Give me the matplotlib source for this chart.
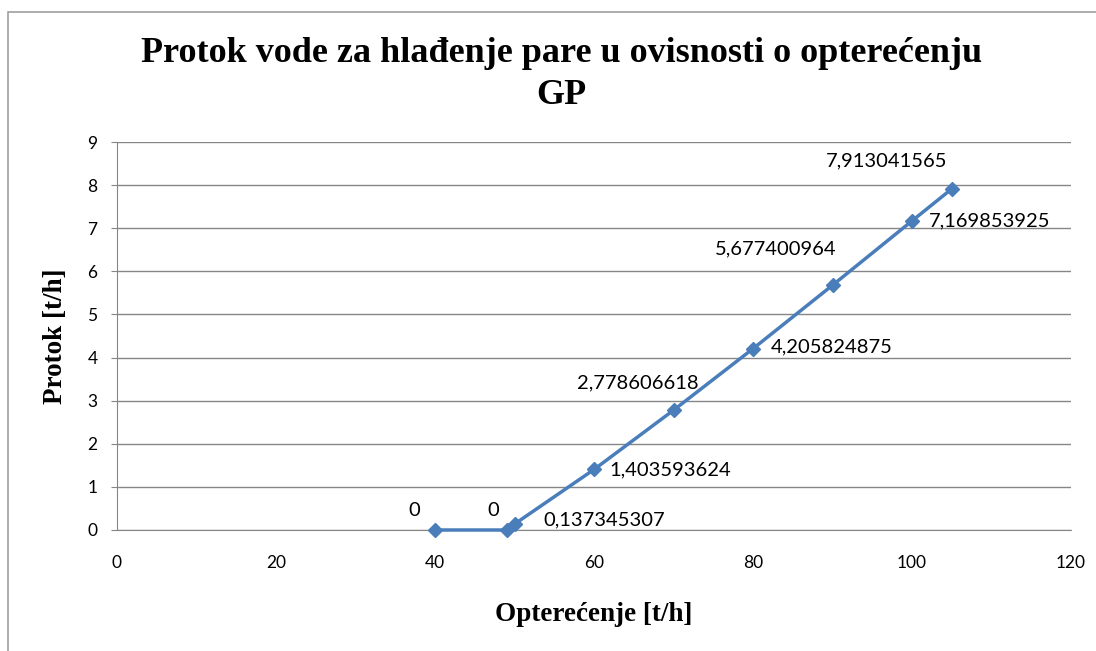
import matplotlib.pyplot as plt
from matplotlib.patches import Rectangle

# opterecenje [t/h] i protok [t/h]
opterecenje = [40, 49, 50, 60, 70, 80, 90, 100, 105]
protok = [0, 0, 0.137345307, 1.403593624, 2.778606618, 4.205824875,
          5.677400964, 7.169853925, 7.913041565]
labels = ["0", "0", "0,137345307", "1,403593624", "2,778606618", "4,205824875",
          "5,677400964", "7,169853925", "7,913041565"]
# label offsets in points (dx, dy, ha)
offsets = [(-11, 14, "right"), (-5, 14, "right"), (21, 3, "left"), (11, 0, "left"),
           (18, 20, "right"), (13, 1, "left"), (3, 26, "right"), (12, 0, "left"),
           (-3, 20, "right")]

blue = "#4A7EBB"
grid = "#868686"

fig = plt.figure(figsize=(10.96, 6.51), dpi=100)
fig.patches.append(Rectangle((8 / 1096, -0.01), 1.2, 1 - 12 / 651 + 0.01,
                             transform=fig.transFigure, fill=False,
                             edgecolor="#A0A0A0", linewidth=1.2))

ax = fig.add_axes([117 / 1096, 1 - 530 / 651, (1071 - 117) / 1096, (530 - 142) / 651])
ax.plot(opterecenje, protok, color=blue, linewidth=2.5, marker="D",
        markersize=7.5, markerfacecolor=blue, markeredgecolor=blue,
        zorder=3, clip_on=False)

for x, y, t, (dx, dy, ha) in zip(opterecenje, protok, labels, offsets):
    ax.annotate(t, (x, y), xytext=(dx, dy), textcoords="offset points",
                ha=ha, va="center", fontsize=14.5, family="Lato", color="black")

ax.set_xlim(0, 120)
ax.set_ylim(0, 9)
ax.set_xticks(range(0, 121, 20))
ax.set_yticks(range(0, 10))
ax.grid(axis="y", color=grid, linewidth=1)
ax.set_axisbelow(True)
for s in ["top", "right"]:
    ax.spines[s].set_visible(False)
ax.spines["left"].set_color(grid)
ax.spines["bottom"].set_color(grid)
ax.tick_params(axis="x", length=0, pad=18, labelsize=12.5)
ax.tick_params(axis="y", length=4, color=grid, pad=10, labelsize=12.5)
for lab in ax.get_xticklabels() + ax.get_yticklabels():
    lab.set_family("Lato")

ax.set_xlabel("Opterećenje [t/h]", family="Liberation Serif", fontweight="bold",
              fontsize=19.5, labelpad=22)
ax.set_ylabel("Protok [t/h]", family="Liberation Serif", fontweight="bold",
              fontsize=19.5, labelpad=14)
fig.text(0.512, 0.885, "Protok vode za hlađenje pare u ovisnosti o opterećenju\nGP",
         ha="center", va="center", family="Liberation Serif", fontweight="bold",
         fontsize=26, linespacing=1.35)

fig.savefig("out.png", dpi=100)
